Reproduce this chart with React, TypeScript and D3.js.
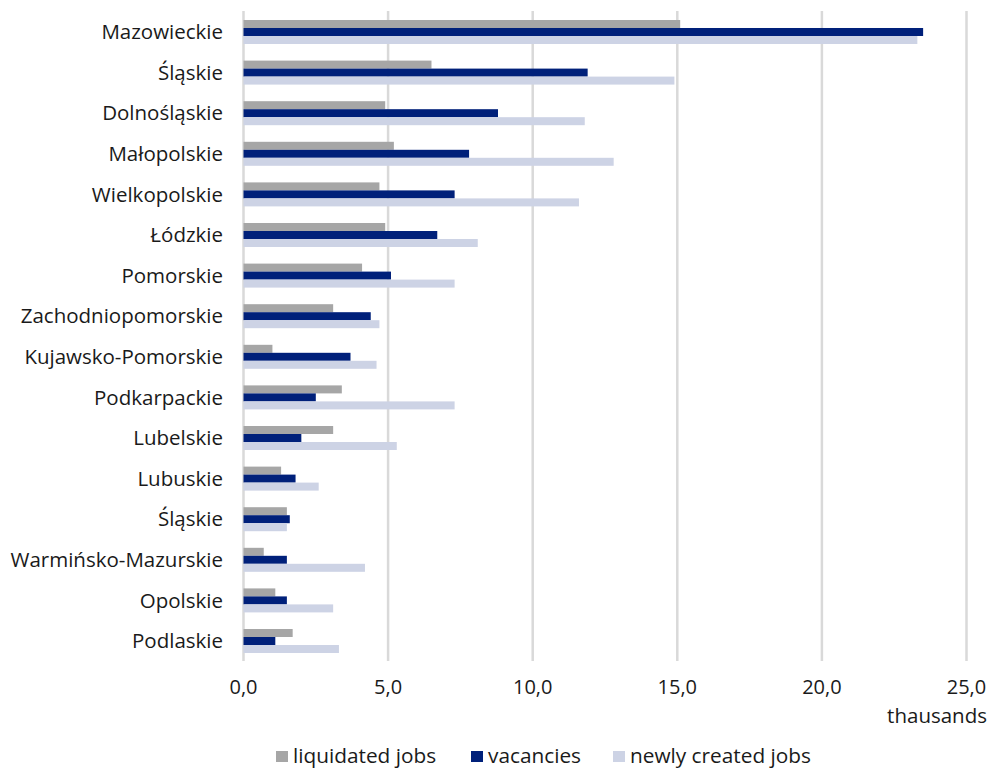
import React from "react";
import * as d3 from "d3";

const categories = [
  "Mazowieckie", "Śląskie", "Dolnośląskie", "Małopolskie", "Wielkopolskie", "Łódzkie",
  "Pomorskie", "Zachodniopomorskie", "Kujawsko-Pomorskie", "Podkarpackie", "Lubelskie",
  "Lubuskie", "Śląskie ", "Warmińsko-Mazurskie", "Opolskie", "Podlaskie",
];
const liquidated = [15.1, 6.5, 4.9, 5.2, 4.7, 4.9, 4.1, 3.1, 1.0, 3.4, 3.1, 1.3, 1.5, 0.7, 1.1, 1.7];
const vacancies = [23.5, 11.9, 8.8, 7.8, 7.3, 6.7, 5.1, 4.4, 3.7, 2.5, 2.0, 1.8, 1.6, 1.5, 1.5, 1.1];
const newlyCreated = [23.3, 14.9, 11.8, 12.8, 11.6, 8.1, 7.3, 4.7, 4.6, 7.3, 5.3, 2.6, 1.5, 4.2, 3.1, 3.3];
const seriesNames = ["liquidated jobs", "vacancies", "newly created jobs"];
const seriesColors = ["#a6a6a6", "#00207a", "#cdd3e5"];
const xTicks = [0, 5, 10, 15, 20, 25];

const W = 991, H = 769;
const FONT = "'Open Sans', sans-serif";

export default function App() {
  const x = d3.scaleLinear().domain([0, 25]).range([243.5, 966.5]);
  const y = d3.scaleBand<string>().domain(categories).range([12, 661]).paddingInner(0.409).paddingOuter(0.197);
  const inner = d3.scaleBand<string>().domain(seriesNames).range([0, y.bandwidth()]);
  const data = [liquidated, vacancies, newlyCreated];
  const fmt = (v: number) => d3.format(".1f")(v).replace(".", ",");

  const legendX = [276, 471, 613];

  return (
    <svg width={W} height={H} style={{ position: "absolute", left: 0, top: 0, background: "#fff" }} fontFamily={FONT}>
      {xTicks.map((t) => (
        <line key={t} x1={x(t)} x2={x(t)} y1={11} y2={661} stroke="#d9d9d9" strokeWidth={2.5} />
      ))}
      {categories.map((c, i) => (
        <g key={c} transform={`translate(0,${y(c)})`}>
          {data.map((s, j) => (
            <rect key={j} x={x(0)} y={inner(seriesNames[j])} width={x(s[i]) - x(0)} height={inner.bandwidth()} fill={seriesColors[j]} />
          ))}
          <text x={223} y={y.bandwidth() / 2} dy="0.35em" textAnchor="end" fontSize={20.5} fill="#1a1a1a">
            {c.trim()}
          </text>
        </g>
      ))}
      {xTicks.map((t) => (
        <text key={t} x={x(t)} y={694} textAnchor="middle" fontSize={20} fill="#1a1a1a">{fmt(t)}</text>
      ))}
      <text x={987} y={723} textAnchor="end" fontSize={20.5} fill="#1a1a1a">thausands</text>
      {seriesNames.map((n, j) => (
        <g key={n} transform={`translate(${legendX[j]},0)`}>
          <rect x={0} y={751} width={12} height={11} fill={seriesColors[j]} />
          <text x={17} y={763} fontSize={20.8} fill="#1a1a1a">{n}</text>
        </g>
      ))}
    </svg>
  );
}
